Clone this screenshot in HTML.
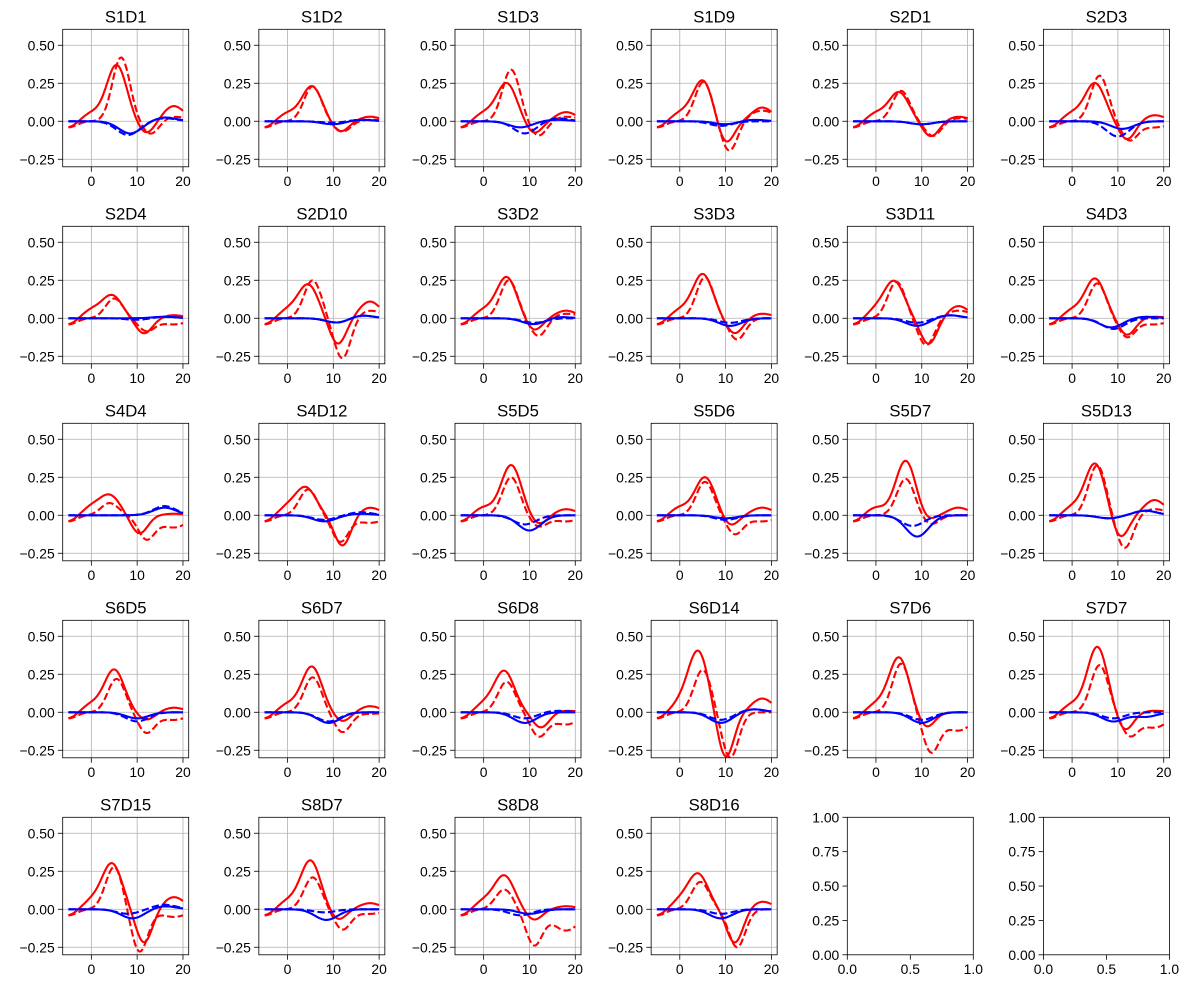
<!DOCTYPE html>
<html><head><meta charset="utf-8"><style>
html,body{margin:0;padding:0;background:#fff}
svg text{font-family:"Liberation Sans","DejaVu Sans",sans-serif;fill:#000}
</style></head><body>
<svg id="s" width="1189" height="989" xmlns="http://www.w3.org/2000/svg"></svg>
<script>
const names=["S1D1","S1D2","S1D3","S1D9","S2D1","S2D3","S2D4","S2D10","S3D2","S3D3","S3D11","S4D3","S4D4","S4D12","S5D5","S5D6","S5D7","S5D13","S6D5","S6D7","S6D8","S6D14","S7D6","S7D7","S7D15","S8D7","S8D8","S8D16"];
const D=[
[[0.37,5.5,0.08,12,0.1],[0.42,6.5,0.09,13,0.03],[0.08,8.5,0.025],[0.09,8,0.02]],
[[0.23,5.3,0.07,11.5,0.03],[0.23,5.5,0.07,12,0.01],[0.02,10,0.01],[0.01,10,0.01]],
[[0.25,5,0.08,11,0.06],[0.34,6,0.1,12,0.03],[0.04,8,0.01],[0.08,9,0.02]],
[[0.27,5,0.15,10,0.09],[0.26,5.2,0.2,10.8,0.07],[0.02,10,0.01],[0.03,9,0]],
[[0.19,5,0.1,12,0.03],[0.2,5.5,0.1,12.5,0.02],[0.02,10,0],[0.02,10,0]],
[[0.25,5,0.12,12,0.04],[0.3,6,0.12,12.5,-0.04],[0.05,11,0],[0.1,10,0]],
[[0.15,4.5,0.1,11.5,0.02],[0.13,5,0.08,12,-0.04],[0.0,10,0.01],[0.01,10,0.01]],
[[0.22,4.5,0.17,11,0.11],[0.25,5.5,0.27,12,0.05],[0.03,11,0.02],[0.03,11,0.02]],
[[0.27,5,0.08,11,0.05],[0.25,5.5,0.12,12,0.03],[0.04,11,0.01],[0.03,11,0]],
[[0.29,5,0.1,12,0.03],[0.27,5.5,0.14,12.5,0],[0.05,11,0],[0.03,11,0]],
[[0.24,4,0.17,11.5,0.08],[0.24,4.5,0.18,11,0.05],[0.05,9,0.02],[0.03,9,0.02]],
[[0.26,5,0.11,12,0.01],[0.23,5.5,0.12,12,-0.04],[0.06,8.5,0.01],[0.07,9,0]],
[[0.13,4,0.12,10.5,0.01],[0.08,4,0.15,12,-0.08],[0.0,9,0.05],[0.0,9,0.06]],
[[0.18,4,0.2,12,0.05],[0.17,4.5,0.17,11.5,-0.05],[0.04,8,0.01],[0.03,8,0.02]],
[[0.33,6,0.06,12,0.04],[0.25,6,0.07,12,-0.04],[0.1,10,0],[0.06,9,0]],
[[0.25,5.5,0.07,11,0.05],[0.22,5.5,0.12,12,-0.04],[0.02,10,0],[0.03,10,0]],
[[0.36,6.5,0.04,11,0.05],[0.24,6.5,0.06,12,0],[0.14,9,0],[0.07,8,0]],
[[0.34,5,0.15,10.5,0.1],[0.33,5.5,0.22,11.5,0.04],[0.02,8,0.03],[0.02,8,0.03]],
[[0.28,5,0.05,12,0.03],[0.22,5.5,0.13,12,-0.05],[0.04,10,0],[0.06,10,0]],
[[0.3,5.3,0.06,12,0.04],[0.23,5.5,0.13,12,-0.01],[0.07,9,0],[0.06,9,0]],
[[0.27,4.5,0.1,12.5,0.01],[0.2,5,0.15,12,-0.08],[0.07,9,0],[0.04,9,0.01]],
[[0.4,4,0.3,10,0.09],[0.28,5,0.3,11,0],[0.07,9,0.02],[0.05,9,0.02]],
[[0.36,5,0.1,11,0],[0.32,5.5,0.25,12,-0.12],[0.07,10,0],[0.05,10,0]],
[[0.43,5.5,0.12,11.5,0.01],[0.31,6,0.14,12.5,-0.1],[0.06,9,-0.03],[0.04,9,0]],
[[0.3,4.5,0.22,11.5,0.08],[0.28,5,0.28,10.5,-0.05],[0.06,9,0.02],[0.03,8,0.03]],
[[0.32,5,0.07,11,0.04],[0.21,5.5,0.13,12,-0.03],[0.07,8.5,0],[0.02,8,0]],
[[0.22,4.5,0.07,11,0.02],[0.13,4.5,0.23,11,-0.14],[0.03,10,0],[0.04,8,0]],
[[0.23,4,0.22,12,0.05],[0.18,4.5,0.25,12.5,0],[0.06,9,0],[0.03,9,0]]];
const g=(x,c,s)=>Math.exp(-(x-c)*(x-c)/(2*s*s));
function red(x,a,solid){const[A,p,T,q,L]=a;return A*g(x,p,solid?2.2:1.9)-T*g(x,q,1.8)+L*g(x,18,solid?2.3:3)-0.04*g(x,-5,1.8)+(solid?0.05*g(x,0,2):0);}
function blue(x,a){const[Dd,s,E]=a;return -Dd*g(x,s,2.5)+E*g(x,16,2.5);}
const W=126,H=137.5,X0=62.7,Y0=29.3,DX=196.15,DY=197;
let o='';
for(let i=0;i<30;i++){
 const c=i%6,r=Math.floor(i/6),L=X0+c*DX,T=Y0+r*DY;
 if(i>=28){
  const px=v=>L+v*W,py=v=>T+H-v*H;
  [0,0.5,1].forEach(v=>{o+=`<line x1="${px(v)}" x2="${px(v)}" y1="${T+H}" y2="${T+H+4.9}" stroke="#000" stroke-width="0.8"/><text x="${px(v)}" y="${T+H+19}" font-size="13.9" text-anchor="middle">${v.toFixed(1)}</text>`;});
  [0,0.25,0.5,0.75,1].forEach(v=>{o+=`<line x1="${L-4.9}" x2="${L}" y1="${py(v)}" y2="${py(v)}" stroke="#000" stroke-width="0.8"/><text x="${L-8}" y="${py(v)+5}" font-size="13.9" text-anchor="end">${v.toFixed(2)}</text>`;});
  o+=`<rect x="${L}" y="${T}" width="${W}" height="${H}" fill="none" stroke="#000" stroke-width="0.8"/>`;
  continue;
 }
 const px=v=>L+(v+6.25)/27.5*W,py=v=>T+(0.605-v)*152;
 o+=`<clipPath id="c${i}"><rect x="${L}" y="${T}" width="${W}" height="${H}"/></clipPath>`;
 [0,10,20].forEach(v=>{o+=`<line x1="${px(v)}" x2="${px(v)}" y1="${T}" y2="${T+H}" stroke="#b0b0b0" stroke-width="0.8"/><line x1="${px(v)}" x2="${px(v)}" y1="${T+H}" y2="${T+H+4.9}" stroke="#000" stroke-width="0.8"/><text x="${px(v)}" y="${T+H+19}" font-size="13.9" text-anchor="middle">${v}</text>`;});
 [-0.25,0,0.25,0.5].forEach(v=>{o+=`<line x1="${L}" x2="${L+W}" y1="${py(v)}" y2="${py(v)}" stroke="#b0b0b0" stroke-width="0.8"/><line x1="${L-4.9}" x2="${L}" y1="${py(v)}" y2="${py(v)}" stroke="#000" stroke-width="0.8"/><text x="${L-8}" y="${py(v)+5}" font-size="13.9" text-anchor="end">${v<0?'\u2212'+(-v).toFixed(2):v.toFixed(2)}</text>`;});
 const d=D[i];
 const fns=[[x=>red(x,d[0],1),'#ff0000',''],[x=>red(x,d[1],0),'#ff0000','7.4,3.2'],[x=>blue(x,d[2]),'#0000ff',''],[x=>blue(x,d[3]),'#0000ff','7.4,3.2']];
 fns.forEach(([f,col,da])=>{let pts=[];for(let k=0;k<=120;k++){const x=-5+25*k/120;pts.push(px(x).toFixed(1)+','+py(f(x)).toFixed(1));}
  o+=`<polyline clip-path="url(#c${i})" points="${pts.join(' ')}" fill="none" stroke="${col}" stroke-width="2.1" ${da?`stroke-dasharray="${da}"`:''} stroke-linejoin="round"/>`;});
 o+=`<rect x="${L}" y="${T}" width="${W}" height="${H}" fill="none" stroke="#000" stroke-width="0.8"/>`;
 o+=`<text x="${L+W/2}" y="${T-7}" font-size="16.7" text-anchor="middle">${names[i]}</text>`;
}
document.getElementById('s').innerHTML=o;
</script>
</body></html>
